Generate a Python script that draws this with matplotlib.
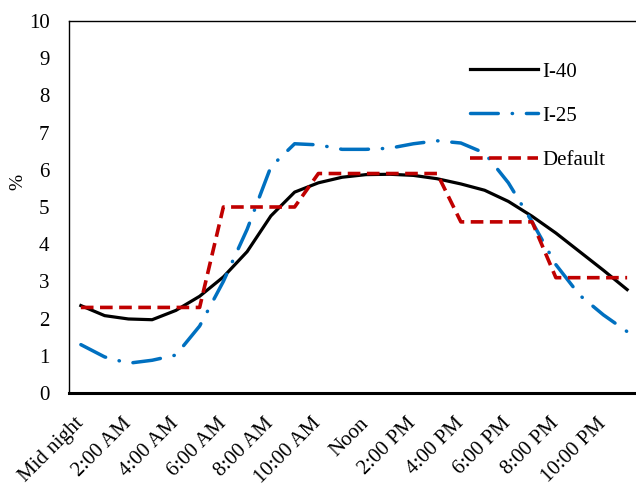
import matplotlib
matplotlib.use('Agg')
import matplotlib.pyplot as plt

plt.rcParams['font.family'] = ['Liberation Serif', 'DejaVu Serif']

hours = list(range(24))
tick_pos = list(range(0, 24, 2))
tick_labels = ['Mid night', '2:00 AM', '4:00 AM', '6:00 AM', '8:00 AM', '10:00 AM',
               'Noon', '2:00 PM', '4:00 PM', '6:00 PM', '8:00 PM', '10:00 PM']

# hourly share of daily traffic (%)
i40 = [2.35, 2.08, 1.99, 1.97, 2.22, 2.6, 3.12, 3.8, 4.76, 5.4, 5.65, 5.8,
       5.87, 5.88, 5.85, 5.76, 5.62, 5.45, 5.15, 4.75, 4.3, 3.8, 3.3, 2.78]
i25 = [1.3, 0.97, 0.8, 0.88, 1.02, 1.8, 3.0, 4.4, 6.08, 6.7, 6.67, 6.55,
       6.55, 6.58, 6.7, 6.78, 6.72, 6.45, 5.65, 4.6, 3.45, 2.63, 2.1, 1.65]
default = [2.3, 2.3, 2.3, 2.3, 2.3, 2.3, 5.0, 5.0, 5.0, 5.0, 5.9, 5.9,
           5.9, 5.9, 5.9, 5.9, 4.6, 4.6, 4.6, 4.6, 3.1, 3.1, 3.1, 3.1]

fig = plt.figure(figsize=(6.36, 4.88), dpi=100)
ax = fig.add_axes([69 / 636, 95 / 488, 570 / 636, 372 / 488])

ax.plot(hours, i40, color='black', lw=2.3, label='I-40')
ax.plot(hours, i25, color='#0070C0', lw=2.5, linestyle=(0, (8, 4, 0.1, 4)),
        dash_capstyle='round', label='I-25')
ax.plot(hours, default, color='#C00000', lw=2.6, linestyle=(0, (3.5, 1.8)),
        label='Default')

ax.set_xlim(-0.5, 23.5)
ax.set_ylim(0, 10)
ax.set_yticks(range(0, 11))
ax.set_xticks(tick_pos)
ax.set_xticklabels(tick_labels, rotation=45, ha='right', va='center',
                   rotation_mode='anchor')
ax.tick_params(axis='both', length=0, labelsize=15)
ax.tick_params(axis='y', pad=14)
ax.tick_params(axis='x', pad=20)

ax.set_ylabel('%', fontsize=14)
ax.yaxis.set_label_coords(-0.075, 0.567)

ax.spines['right'].set_visible(False)
ax.spines['top'].set_linewidth(1.0)
ax.spines['left'].set_linewidth(1.0)
ax.spines['bottom'].set_linewidth(2.2)

ax.legend(loc='upper left', bbox_to_anchor=(0.703, 0.89), frameon=False,
          fontsize=15, handlelength=3.3, handletextpad=0.2, labelspacing=1.18,
          borderpad=0, borderaxespad=0)

fig.savefig('out.png', dpi=100)
